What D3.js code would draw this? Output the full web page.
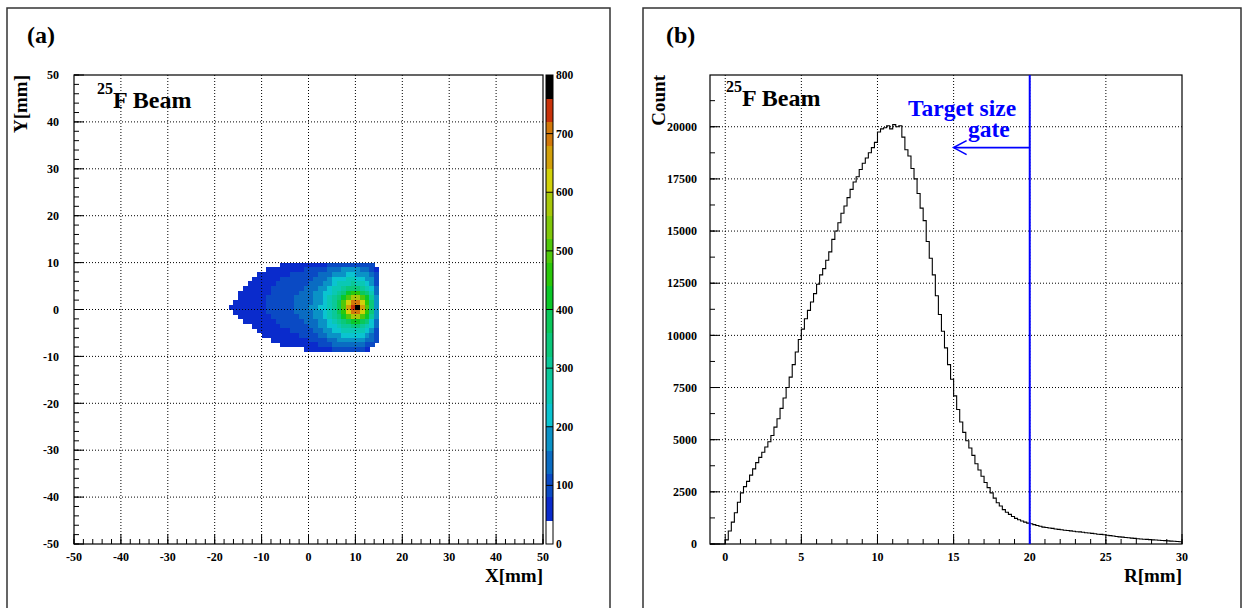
<!DOCTYPE html>
<html><head><meta charset="utf-8">
<script src="https://cdn.jsdelivr.net/npm/d3@7"></script>
<style>
body{margin:0;background:#fff}
svg{display:block}
text{font-family:"Liberation Serif","Times New Roman",serif;font-weight:bold;fill:#000}
</style>
</head><body>
<svg id="c" width="1248" height="608"></svg>
<script>
// ---------------- DATA ----------------
// Panel (a): 2D beam profile, 1 mm bins
const heatXCenters = [-16.5,-15.5,-14.5,-13.5,-12.5,-11.5,-10.5,-9.5,-8.5,-7.5,-6.5,-5.5,-4.5,-3.5,-2.5,-1.5,-0.5,0.5,1.5,2.5,3.5,4.5,5.5,6.5,7.5,8.5,9.5,10.5,11.5,12.5,13.5,14.5];
const heatYCenters = [9.5,8.5,7.5,6.5,5.5,4.5,3.5,2.5,1.5,0.5,-0.5,-1.5,-2.5,-3.5,-4.5,-5.5,-6.5,-7.5,-8.5];
const heatBinSize = 1;
const heatCounts = [
 [0,0,0,0,0,0,0,0,0,0,0,42,45,48,50,52,55,58,63,70,79,89,100,109,116,119,119,116,109,98,81,0],
 [0,0,0,0,0,0,0,0,42,48,55,60,64,68,72,76,80,84,92,100,113,128,143,155,165,170,170,165,155,140,115,75],
 [0,0,0,0,0,0,42,48,55,62,68,72,76,80,84,88,94,100,110,120,135,153,171,186,198,204,204,198,186,168,138,90],
 [0,0,0,0,0,42,52,58,64,71,77,82,86,90,95,100,106,114,127,140,158,179,200,217,233,241,243,236,221,198,162,105],
 [0,0,0,0,43,50,60,65,71,78,84,90,94,98,104,110,117,126,140,156,176,199,223,246,265,279,283,276,258,228,184,119],
 [0,0,0,44,52,58,64,69,76,83,90,96,99,104,111,118,127,137,153,170,191,218,246,275,305,330,345,340,312,269,211,134],
 [0,0,45,50,56,61,67,72,79,87,94,100,103,110,117,124,136,147,164,182,205,234,268,308,358,409,444,441,398,329,246,151],
 [0,0,48,53,58,63,68,74,81,89,96,103,106,113,121,129,141,153,171,190,214,246,288,344,421,509,574,578,511,404,288,170],
 [0,42,50,55,60,64,69,75,82,90,97,104,108,116,123,131,145,158,178,198,223,258,307,378,483,608,702,711,621,477,328,188],
 [42,45,50,55,60,64,69,75,82,90,97,104,110,117,124,132,146,160,180,200,225,262,313,390,507,647,754,765,666,507,343,194],
 [0,41,48,53,58,62,67,73,80,88,95,102,106,113,120,128,142,157,176,196,221,256,304,375,479,604,698,707,618,474,325,186],
 [0,0,43,50,55,59,64,70,77,84,91,98,100,106,113,122,136,150,169,188,212,244,285,340,417,506,571,574,507,401,285,168],
 [0,0,0,43,48,54,59,65,72,79,86,92,92,98,106,114,128,141,158,176,198,226,260,299,348,399,434,431,389,320,239,146],
 [0,0,0,0,0,44,52,58,65,72,78,84,84,90,97,105,117,130,146,162,182,208,235,262,291,316,331,326,299,258,201,128],
 [0,0,0,0,0,0,42,50,57,63,69,75,74,80,88,95,106,117,131,146,164,186,209,230,249,262,266,260,242,214,173,112],
 [0,0,0,0,0,0,0,42,46,53,59,65,64,70,77,83,93,102,115,128,144,163,182,198,213,221,223,216,202,181,148,96],
 [0,0,0,0,0,0,0,0,0,42,47,53,53,58,64,69,77,85,95,106,119,135,151,164,175,180,180,175,164,148,122,80],
 [0,0,0,0,0,0,0,0,0,0,0,41,42,46,50,55,61,67,76,84,95,107,120,130,139,143,143,139,130,118,97,0],
 [0,0,0,0,0,0,0,0,0,0,0,0,28,31,34,36,41,45,50,56,63,71,80,87,92,95,95,92,87,78,0,0]
];
const zBandEdges = [0,40,80,120,160,200,240,280,320,360,400,440,480,520,560,600,640,680,720,760,800];
const zBandColors = ["#ffffff","#0a2bcc","#0a4ac4","#0a6cc2","#0a92c6","#0ac4d0","#0ac8b4","#0ac898","#0ac87a","#0ac85a","#0ac828","#2ac80a","#50c80a","#80c80a","#a8c80a","#d2d20a","#d2a00a","#d2780a","#c8320a","#000000"];
const xTicksA = [-50,-40,-30,-20,-10,0,10,20,30,40,50];
const yTicksA = [-50,-40,-30,-20,-10,0,10,20,30,40,50];
const zTicks = [0,100,200,300,400,500,600,700,800];

// Panel (b): radial distribution, 0.2 mm bins starting at R = 0
const rBinStart = 0, rBinWidth = 0.2;
const rCounts = [200,620,1050,1500,2000,2450,2750,3000,3300,3600,3900,4150,4400,4650,4900,5200,5600,6000,6500,7000,7500,8000,8600,9200,9800,10300,10800,11200,11600,12000,12450,12900,13200,13600,14000,14600,15000,15400,15850,16200,16600,17000,17350,17600,17950,18250,18500,18750,19000,19250,
 19750,19900,19950,20050,19900,20100,20000,20050,19500,18900,18600,18000,17500,16800,16100,15500,14500,13700,12900,11900,11000,10200,9400,8600,7900,7100,6450,5850,5350,4950,4600,4250,3850,3550,3250,2950,2700,2450,2200,1980,1820,1650,1520,1420,1320,1230,1160,1100,1050,1000,
 970,930,890,850,810,790,770,750,720,700,680,660,650,630,610,590,580,560,540,530,510,490,470,460,440,420,400,380,360,340,330,310,300,280,270,250,240,230,220,210,200,190,180,170,160,150,140,130,120,110];
const xTicksB = [0,5,10,15,20,25,30];
const yTicksB = [0,2500,5000,7500,10000,12500,15000,17500,20000];
const gateR = 20;
const arrowFromR = 20, arrowToR = 15, arrowCount = 19000;

// ---------------- DRAW ----------------
const FONT = "'Liberation Serif','Times New Roman',serif";
const svg = d3.select("#c");
function txt(g) { return g.append("text").attr("font-family", FONT).attr("font-weight", "bold"); }

// pad frames
svg.append("rect").attr("x",7).attr("y",8).attr("width",603).attr("height",640)
  .attr("fill","none").attr("stroke","#333").attr("stroke-width",1.5);
svg.append("rect").attr("x",643).attr("y",8).attr("width",598).attr("height",640)
  .attr("fill","none").attr("stroke","#333").attr("stroke-width",1.5);

function drawGrid(g, xs, ys, xt, yt) {
  const [x0,x1] = xs.range(), [y0,y1] = ys.range();
  xt.forEach(t => {
    const x = xs(t);
    if (Math.abs(x-x0) < 1 || Math.abs(x-x1) < 1) return;
    g.append("line").attr("x1",x).attr("x2",x).attr("y1",y0).attr("y2",y1)
      .attr("stroke","#000").attr("stroke-width",1).attr("stroke-dasharray","1,2");
  });
  yt.forEach(t => {
    const y = ys(t);
    if (Math.abs(y-y0) < 1 || Math.abs(y-y1) < 1) return;
    g.append("line").attr("x1",x0).attr("x2",x1).attr("y1",y).attr("y2",y)
      .attr("stroke","#000").attr("stroke-width",1).attr("stroke-dasharray","1,2");
  });
}
function drawTicks(g, xs, ys, xMajor, xMinor, yMajor, yMinor) {
  const [x0] = xs.range(), [y0] = ys.range();
  xMinor.forEach(t => g.append("line").attr("x1",xs(t)).attr("x2",xs(t)).attr("y1",y0).attr("y2",y0-5).attr("stroke","#000"));
  xMajor.forEach(t => g.append("line").attr("x1",xs(t)).attr("x2",xs(t)).attr("y1",y0).attr("y2",y0-10).attr("stroke","#000"));
  yMinor.forEach(t => g.append("line").attr("x1",x0).attr("x2",x0+5).attr("y1",ys(t)).attr("y2",ys(t)).attr("stroke","#000"));
  yMajor.forEach(t => g.append("line").attr("x1",x0).attr("x2",x0+10).attr("y1",ys(t)).attr("y2",ys(t)).attr("stroke","#000"));
}

// ===== Panel (a) =====
const xA = d3.scaleLinear().domain([-50,50]).range([74,543]);
const yA = d3.scaleLinear().domain([-50,50]).range([544,75]);
const zColor = d3.scaleThreshold().domain(zBandEdges.slice(1,-1)).range(zBandColors);
const gA = svg.append("g");

const cells = [];
heatCounts.forEach((row, ri) => row.forEach((v, ci) => {
  if (v >= zBandEdges[1]) cells.push({x: heatXCenters[ci], y: heatYCenters[ri], v});
}));
gA.append("g").selectAll("rect").data(cells).join("rect")
  .attr("x", d => xA(d.x - heatBinSize/2))
  .attr("y", d => yA(d.y + heatBinSize/2))
  .attr("width", d => xA(d.x + heatBinSize/2) - xA(d.x - heatBinSize/2) + 0.4)
  .attr("height", d => yA(d.y - heatBinSize/2) - yA(d.y + heatBinSize/2) + 0.4)
  .attr("fill", d => zColor(d.v))
  .attr("shape-rendering","crispEdges");

drawGrid(gA, xA, yA, xTicksA, yTicksA);
const minorA = d3.range(-50, 50.01, 2);
drawTicks(gA, xA, yA, xTicksA, minorA, yTicksA, minorA);
gA.append("rect").attr("x",74).attr("y",75).attr("width",543-74).attr("height",544-75)
  .attr("fill","none").attr("stroke","#000").attr("stroke-width",1.2);

xTicksA.forEach(d => txt(gA).attr("x", xA(d)).attr("y", 561).attr("text-anchor","middle").attr("font-size",12).text(d));
yTicksA.forEach(d => txt(gA).attr("x", 59).attr("y", yA(d)).attr("dy","0.35em").attr("text-anchor","end").attr("font-size",12).text(d));

txt(gA).attr("x",543).attr("y",582).attr("text-anchor","end").attr("font-size",19).text("X[mm]");
txt(gA).attr("transform","translate(27,75) rotate(-90)").attr("text-anchor","end").attr("font-size",19).text("Y[mm]");
txt(gA).attr("x",27).attr("y",43).attr("font-size",24).text("(a)");
const tA = txt(gA).attr("x",97).attr("y",108).attr("font-size",24);
tA.append("tspan").attr("font-size",16).attr("dy",-14).text("25");
tA.append("tspan").attr("dy",14).text("F Beam");

// color bar
const zY = d3.scaleLinear().domain([0,800]).range([544,75]);
const cb = svg.append("g");
for (let i = 0; i < zBandColors.length; i++) {
  cb.append("rect").attr("x",546).attr("width",7)
    .attr("y", zY(zBandEdges[i+1])).attr("height", zY(zBandEdges[i]) - zY(zBandEdges[i+1]) + 0.3)
    .attr("fill", zBandColors[i]).attr("shape-rendering","crispEdges");
}
cb.append("rect").attr("x",546).attr("y",75).attr("width",7).attr("height",544-75)
  .attr("fill","none").attr("stroke","#000").attr("stroke-width",1);
zTicks.slice(1,-1).forEach(t => cb.append("line").attr("x1",546).attr("x2",553).attr("y1",zY(t)).attr("y2",zY(t)).attr("stroke","#000").attr("stroke-width",1));
zTicks.forEach(d => txt(cb).attr("x",556).attr("y", zY(d)).attr("dy","0.35em").attr("font-size",11.5).text(d));

// ===== Panel (b) =====
const xB = d3.scaleLinear().domain([-1,30]).range([710,1182]);
const yB = d3.scaleLinear().domain([0,22480]).range([544,75]);
const gB = svg.append("g");
drawGrid(gB, xB, yB, xTicksB, yTicksB);
drawTicks(gB, xB, yB, xTicksB, d3.range(0,30.01,1), yTicksB, d3.range(0,22480,1250));

const pts = [[-1,0]];
rCounts.forEach((c,i) => pts.push([rBinStart + i*rBinWidth, c]));
pts.push([rBinStart + rCounts.length*rBinWidth, rCounts[rCounts.length-1]]);
gB.append("path").datum(pts)
  .attr("d", d3.line().x(d => xB(d[0])).y(d => yB(d[1])).curve(d3.curveStepAfter))
  .attr("fill","none").attr("stroke","#000").attr("stroke-width",1.1);

gB.append("rect").attr("x",710).attr("y",75).attr("width",1182-710).attr("height",544-75)
  .attr("fill","none").attr("stroke","#000").attr("stroke-width",1.2);

// gate line + arrow
gB.append("line").attr("x1",xB(gateR)).attr("x2",xB(gateR)).attr("y1",544).attr("y2",75)
  .attr("stroke","#0000ff").attr("stroke-width",2);
const ay = yB(arrowCount);
gB.append("line").attr("x1",xB(arrowFromR)).attr("x2",xB(arrowToR)).attr("y1",ay).attr("y2",ay)
  .attr("stroke","#0000ff").attr("stroke-width",1.6);
gB.append("path").attr("d",`M${xB(arrowToR)+13},${ay-7} L${xB(arrowToR)},${ay} L${xB(arrowToR)+13},${ay+7}`)
  .attr("fill","none").attr("stroke","#0000ff").attr("stroke-width",1.6);
txt(gB).attr("x",908).attr("y",116).attr("font-size",23.5).attr("fill","#0000ff").style("fill","#0000ff").text("Target size");
txt(gB).attr("x",968).attr("y",137).attr("font-size",23.5).attr("fill","#0000ff").style("fill","#0000ff").text("gate");

xTicksB.forEach(d => txt(gB).attr("x", xB(d)).attr("y", 561).attr("text-anchor","middle").attr("font-size",12).text(d));
yTicksB.forEach(d => txt(gB).attr("x", 697).attr("y", yB(d)).attr("dy","0.35em").attr("text-anchor","end").attr("font-size",12).text(d));

txt(gB).attr("x",1182).attr("y",582).attr("text-anchor","end").attr("font-size",19).text("R[mm]");
txt(gB).attr("transform","translate(665,75) rotate(-90)").attr("text-anchor","end").attr("font-size",19).text("Count");
txt(gB).attr("x",666).attr("y",43).attr("font-size",24).text("(b)");
const tB = txt(gB).attr("x",726).attr("y",106).attr("font-size",24);
tB.append("tspan").attr("font-size",16).attr("dy",-14).text("25");
tB.append("tspan").attr("dy",14).text("F Beam");
</script>
</body></html>
